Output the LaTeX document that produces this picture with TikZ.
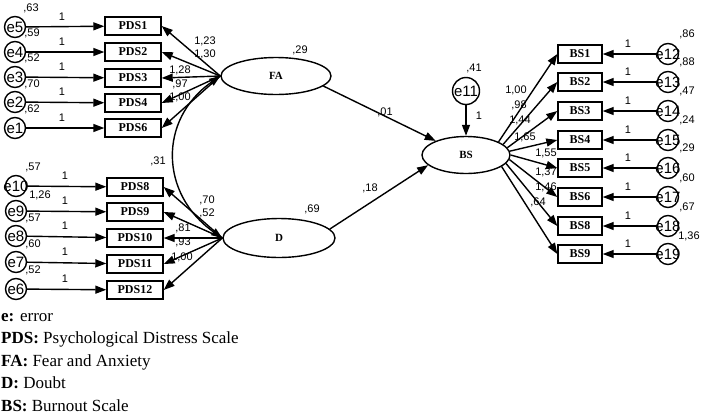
\documentclass[tikz,border=0pt]{standalone}
\usepackage{fontspec}
\setmainfont{Liberation Serif}
\setsansfont{Liberation Sans}
\usetikzlibrary{arrows.meta, positioning, shapes.geometric}

\begin{document}
\begin{tikzpicture}[
  x=1pt, y=-1pt,
  obs/.style={draw, line width=1.4pt, minimum width=56pt, minimum height=18pt, inner sep=1pt, font=\fontsize{12}{12}\selectfont\bfseries},
  bsobs/.style={obs, minimum width=44pt},
  latent/.style={draw, ellipse, line width=1.4pt, minimum width=110pt, minimum height=37pt, font=\fontsize{11}{11}\selectfont\bfseries},
  err/.style={draw, circle, line width=1.4pt, minimum size=21pt, inner sep=0pt, label={[font=\sffamily\fontsize{15}{15}\selectfont]center:#1}},
  num/.style={font=\sffamily\fontsize{11}{11}\selectfont, inner sep=1pt},
  arrow/.style={-{Triangle[length=11pt, width=8pt]}, line width=1.4pt},
  twoway/.style={{Triangle[length=11pt, width=8pt]}-{Triangle[length=11pt, width=8pt]}, line width=1.4pt}
]
\useasboundingbox (0,0) rectangle (702,416);

% latent variables
\node[latent] (fa) at (276,76) {FA};
\node[latent, minimum width=112pt, minimum height=39pt] (d) at (279,238) {D};
\node[latent, minimum width=88pt] (bs) at (466,155) {BS};

% FA indicators
\node[obs] (pds1) at (133,26) {PDS1};
\node[obs] (pds2) at (133,52) {PDS2};
\node[obs] (pds3) at (133,78) {PDS3};
\node[obs] (pds4) at (133,103) {PDS4};
\node[obs] (pds6) at (133,128) {PDS6};
\node[err=e5] (e5) at (15,27) {};
\node[err=e4] (e4) at (15,52) {};
\node[err=e3] (e3) at (15,77) {};
\node[err=e2] (e2) at (15,102) {};
\node[err=e1] (e1) at (15,128) {};

% D indicators
\node[obs] (pds8) at (135,187) {PDS8};
\node[obs] (pds9) at (135,212) {PDS9};
\node[obs] (pds10) at (135,238) {PDS10};
\node[obs] (pds11) at (135,264) {PDS11};
\node[obs] (pds12) at (135,290) {PDS12};
\node[err=e10] (e10) at (16,186) {};
\node[err=e9] (e9) at (16,211) {};
\node[err=e8] (e8) at (16,236) {};
\node[err=e7] (e7) at (16,262) {};
\node[err=e6] (e6) at (16,289) {};

% BS indicators
\node[bsobs] (bs1) at (580,54) {BS1};
\node[bsobs] (bs2) at (580,82) {BS2};
\node[bsobs] (bs3) at (580,111) {BS3};
\node[bsobs] (bs4) at (580,140) {BS4};
\node[bsobs] (bs5) at (580,168) {BS5};
\node[bsobs] (bs6) at (580,197) {BS6};
\node[bsobs] (bs8) at (580,226) {BS8};
\node[bsobs] (bs9) at (580,254) {BS9};
\node[err=e12] (e12) at (668,54) {};
\node[err=e13] (e13) at (668,82) {};
\node[err=e14] (e14) at (668,111) {};
\node[err=e15] (e15) at (668,140) {};
\node[err=e16] (e16) at (668,168) {};
\node[err=e17] (e17) at (668,197) {};
\node[err=e18] (e18) at (668,226) {};
\node[err=e19] (e19) at (668,254) {};
\node[err=e11, minimum size=27pt] (e11) at (466,91) {};

% error paths
\draw[arrow] (e5) -- (pds1);
\draw[arrow] (e4) -- (pds2);
\draw[arrow] (e3) -- (pds3);
\draw[arrow] (e2) -- (pds4);
\draw[arrow] (e1) -- (pds6);
\draw[arrow] (e10) -- (pds8);
\draw[arrow] (e9) -- (pds9);
\draw[arrow] (e8) -- (pds10);
\draw[arrow] (e7) -- (pds11);
\draw[arrow] (e6) -- (pds12);
\draw[arrow] (e12) -- (bs1);
\draw[arrow] (e13) -- (bs2);
\draw[arrow] (e14) -- (bs3);
\draw[arrow] (e15) -- (bs4);
\draw[arrow] (e16) -- (bs5);
\draw[arrow] (e17) -- (bs6);
\draw[arrow] (e18) -- (bs8);
\draw[arrow] (e19) -- (bs9);
\draw[arrow] (e11) -- (bs);

% loadings
\draw[arrow] (fa.west) -- (pds1.east);
\draw[arrow] (fa.west) -- (pds2.east);
\draw[arrow] (fa.west) -- (pds3.east);
\draw[arrow] (fa.west) -- (pds4.east);
\draw[arrow] (fa.west) -- (pds6.east);
\draw[arrow] (d.west) -- (pds8.east);
\draw[arrow] (d.west) -- (pds9.east);
\draw[arrow] (d.west) -- (pds10.east);
\draw[arrow] (d.west) -- (pds11.east);
\draw[arrow] (d.west) -- (pds12.east);
\draw[arrow] (bs.22) -- (bs1.west);
\draw[arrow] (bs.16) -- (bs2.west);
\draw[arrow] (bs.10) -- (bs3.west);
\draw[arrow] (bs.5) -- (bs4.west);
\draw[arrow] (bs.0) -- (bs5.west);
\draw[arrow] (bs.-6) -- (bs6.west);
\draw[arrow] (bs.-12) -- (bs8.west);
\draw[arrow] (bs.-18) -- (bs9.west);

% structural paths
\draw[arrow] (fa.-12) -- (bs.155);
\draw[arrow] (d.10) -- (bs.195);
\draw[twoway] (fa.west) to[out=215, in=145, looseness=1.2] (d.west);

% estimates
\node[num] (v5) at (31,8) {,63};
\node[num] (v4) at (32,33) {,59};
\node[num] (v3) at (32,58) {,52};
\node[num] (v2) at (32,84) {,70};
\node[num] (v1) at (32,109) {,62};
\node[num] (v10) at (33,167) {,57};
\node[num] (v9) at (40,195) {1,26};
\node[num] (v8) at (33,218) {,57};
\node[num] (v7) at (33,244) {,60};
\node[num] (v6) at (33,270) {,52};
\node[num] (v12) at (687,34) {,86};
\node[num] (v13) at (687,62) {,88};
\node[num] (v14) at (687,91) {,47};
\node[num] (v15) at (687,120) {,24};
\node[num] (v16) at (687,148) {,29};
\node[num] (v17) at (687,178) {,60};
\node[num] (v18) at (687,207) {,67};
\node[num] (v19) at (689,236) {1,36};
\node[num] (v11) at (474,68) {,41};
\node[num] (vfa) at (300,50) {,29};
\node[num] (vd) at (312,209) {,69};

\node[num] (w5) at (62,17) {1};
\node[num] (w4) at (62,42) {1};
\node[num] (w3) at (62,67) {1};
\node[num] (w2) at (62,92) {1};
\node[num] (w1) at (62,118) {1};
\node[num] (w10) at (65,176) {1};
\node[num] (w9) at (65,201) {1};
\node[num] (w8) at (65,226) {1};
\node[num] (w7) at (65,252) {1};
\node[num] (w6) at (65,279) {1};
\node[num] (w12) at (628,44) {1};
\node[num] (w13) at (628,72) {1};
\node[num] (w14) at (628,101) {1};
\node[num] (w15) at (628,130) {1};
\node[num] (w16) at (628,158) {1};
\node[num] (w17) at (628,187) {1};
\node[num] (w18) at (628,216) {1};
\node[num] (w19) at (628,244) {1};
\node[num] (w11) at (479,116) {1};

\node[num] (l1) at (205,41) {1,23};
\node[num] (l2) at (205,54) {1,30};
\node[num] (l3) at (180,70) {1,28};
\node[num] (l4) at (180,84) {,97};
\node[num] (l6) at (180,97) {1,00};
\node[num] (l8) at (207,200) {,70};
\node[num] (l9) at (207,213) {,52};
\node[num] (l10) at (183,228) {,81};
\node[num] (l11) at (183,242) {,93};
\node[num] (l12) at (182,257) {1,00};
\node[num] (m1) at (516,90) {1,00};
\node[num] (m2) at (519,105) {,98};
\node[num] (m3) at (520,120) {1,44};
\node[num] (m4) at (525,137) {1,65};
\node[num] (m5) at (546,153) {1,55};
\node[num] (m6) at (546,172) {1,37};
\node[num] (m8) at (546,187) {1,46};
\node[num] (m9) at (538,202) {,64};

\node[num] (pfa) at (385,112) {,01};
\node[num] (pd) at (370,188) {,18};
\node[num] (cov) at (158,161) {,31};

% key
\node[anchor=north west, align=left, inner sep=0pt, font=\fontsize{17}{22.5}\selectfont] (key) at (1,313)
  {\textbf{e:} error\\ \textbf{PDS:} Psychological Distress Scale\\ \textbf{FA:} Fear and Anxiety\\ \textbf{D:} Doubt\\ \textbf{BS:} Burnout Scale};
\end{tikzpicture}
\end{document}
